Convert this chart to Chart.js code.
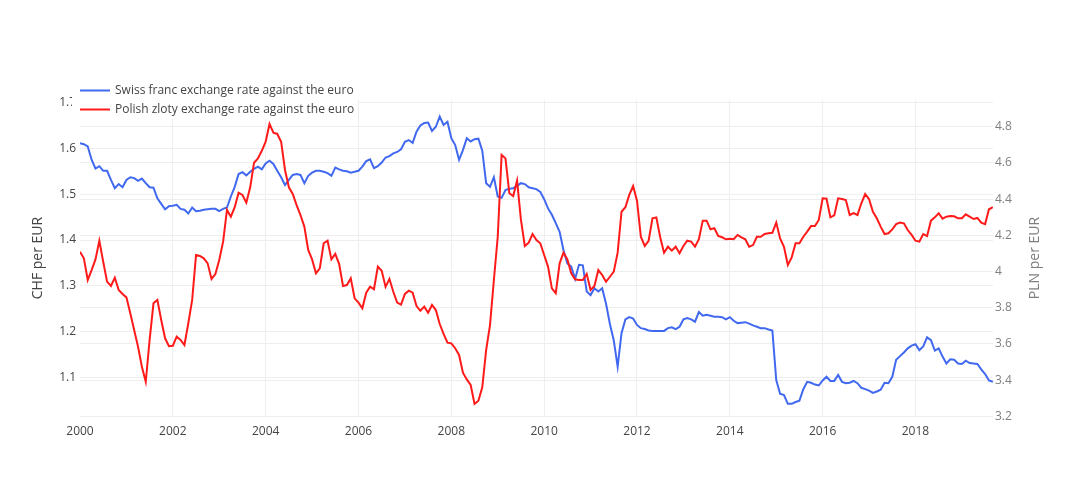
<!DOCTYPE html>
<html>
<head>
<meta charset="utf-8">
<title>CHF and PLN against the euro</title>
<script src="https://cdn.jsdelivr.net/npm/chart.js@4.4.1/dist/chart.umd.min.js"></script>
<style>
  html, body { margin: 0; padding: 0; background: #fff; }
  #wrap { width: 1074px; height: 502px; position: relative; }
</style>
</head>
<body>
<div id="wrap"><canvas id="fxChart"></canvas></div>
<script>
// monthly averages, first value = Jan 2000
const startYear = 2000;
const seriesNames = ['Swiss franc exchange rate against the euro', 'Polish zloty exchange rate against the euro'];

const chfPerEur = [
    1.611, 1.609, 1.604, 1.575, 1.556, 1.561, 1.551, 1.551, 1.531, 1.513, 1.522, 1.515,
    1.531, 1.537, 1.535, 1.529, 1.534, 1.524, 1.515, 1.514, 1.491, 1.479, 1.467, 1.474,
    1.475, 1.477, 1.468, 1.466, 1.458, 1.471, 1.463, 1.464, 1.466, 1.467, 1.468, 1.468,
    1.463, 1.468, 1.471, 1.495, 1.516, 1.544, 1.548, 1.541, 1.549, 1.555, 1.560, 1.554,
    1.567, 1.573, 1.566, 1.551, 1.537, 1.520, 1.531, 1.542, 1.544, 1.542, 1.524, 1.540,
    1.547, 1.551, 1.551, 1.549, 1.546, 1.540, 1.558, 1.554, 1.551, 1.550, 1.547, 1.549,
    1.551, 1.560, 1.572, 1.576, 1.557, 1.561, 1.569, 1.580, 1.583, 1.589, 1.592, 1.598,
    1.614, 1.618, 1.612, 1.636, 1.650, 1.655, 1.656, 1.638, 1.647, 1.669, 1.651, 1.658,
    1.622, 1.607, 1.575, 1.596, 1.622, 1.615, 1.620, 1.621, 1.595, 1.524, 1.516, 1.537,
    1.495, 1.492, 1.509, 1.512, 1.513, 1.518, 1.524, 1.522, 1.515, 1.513, 1.511, 1.505,
    1.489, 1.469, 1.455, 1.437, 1.418, 1.378, 1.349, 1.342, 1.315, 1.346, 1.345, 1.288,
    1.280, 1.295, 1.288, 1.295, 1.261, 1.217, 1.181, 1.124, 1.197, 1.227, 1.232, 1.229,
    1.215, 1.208, 1.206, 1.203, 1.202, 1.202, 1.202, 1.202, 1.208, 1.210, 1.206, 1.211,
    1.227, 1.230, 1.227, 1.222, 1.243, 1.235, 1.237, 1.235, 1.233, 1.233, 1.232, 1.227,
    1.232, 1.224, 1.219, 1.220, 1.221, 1.218, 1.214, 1.211, 1.208, 1.208, 1.205, 1.203,
    1.095, 1.065, 1.062, 1.043, 1.043, 1.047, 1.050, 1.075, 1.091, 1.089, 1.085, 1.083,
    1.094, 1.102, 1.093, 1.093, 1.106, 1.091, 1.088, 1.089, 1.093, 1.088, 1.078, 1.075,
    1.072, 1.067, 1.070, 1.074, 1.089, 1.088, 1.102, 1.139, 1.147, 1.155, 1.164, 1.170,
    1.173, 1.160, 1.168, 1.188, 1.182, 1.159, 1.164, 1.146, 1.131, 1.140, 1.139, 1.131,
    1.130, 1.137, 1.132, 1.131, 1.130, 1.118, 1.108, 1.094, 1.091
];

const plnPerEur = [
    4.109, 4.073, 3.953, 4.008, 4.067, 4.170, 4.054, 3.944, 3.920, 3.966, 3.898, 3.876,
    3.857, 3.769, 3.677, 3.585, 3.474, 3.391, 3.622, 3.824, 3.843, 3.732, 3.631, 3.588,
    3.590, 3.640, 3.622, 3.594, 3.714, 3.843, 4.091, 4.086, 4.073, 4.045, 3.959, 3.986,
    4.064, 4.165, 4.340, 4.303, 4.355, 4.435, 4.423, 4.380, 4.465, 4.601, 4.625, 4.667,
    4.717, 4.815, 4.767, 4.760, 4.717, 4.561, 4.465, 4.428, 4.367, 4.312, 4.248, 4.119,
    4.067, 3.990, 4.018, 4.156, 4.170, 4.067, 4.097, 4.041, 3.920, 3.925, 3.962, 3.852,
    3.828, 3.797, 3.883, 3.916, 3.902, 4.027, 4.004, 3.915, 3.959, 3.888, 3.828, 3.817,
    3.876, 3.894, 3.883, 3.809, 3.783, 3.806, 3.772, 3.815, 3.787, 3.710, 3.655, 3.607,
    3.603, 3.576, 3.539, 3.441, 3.404, 3.373, 3.268, 3.286, 3.360, 3.566, 3.704, 3.953,
    4.192, 4.644, 4.625, 4.432, 4.417, 4.502, 4.285, 4.141, 4.159, 4.207, 4.174, 4.156,
    4.091, 4.027, 3.907, 3.880, 4.045, 4.104, 4.067, 3.990, 3.957, 3.953, 3.953, 3.986,
    3.898, 3.920, 4.008, 3.981, 3.944, 3.971, 3.999, 4.104, 4.330, 4.355, 4.423, 4.472,
    4.391, 4.192, 4.141, 4.170, 4.294, 4.299, 4.189, 4.104, 4.137, 4.115, 4.137, 4.101,
    4.141, 4.170, 4.165, 4.137, 4.178, 4.281, 4.281, 4.233, 4.239, 4.196, 4.189, 4.178,
    4.181, 4.178, 4.202, 4.189, 4.178, 4.137, 4.146, 4.192, 4.192, 4.207, 4.211, 4.214,
    4.270, 4.183, 4.137, 4.036, 4.078, 4.156, 4.156, 4.192, 4.220, 4.251, 4.251, 4.285,
    4.404, 4.402, 4.299, 4.310, 4.404, 4.400, 4.395, 4.312, 4.322, 4.312, 4.377, 4.428,
    4.399, 4.330, 4.294, 4.248, 4.207, 4.211, 4.233, 4.262, 4.270, 4.266, 4.229, 4.202,
    4.170, 4.165, 4.207, 4.196, 4.281, 4.299, 4.322, 4.292, 4.303, 4.307, 4.305, 4.294,
    4.294, 4.316, 4.303, 4.290, 4.296, 4.270, 4.262, 4.344, 4.355
];

const yearTicks = [2000, 2002, 2004, 2006, 2008, 2010, 2012, 2014, 2016, 2018];
const chfTicks = [1.1, 1.2, 1.3, 1.4, 1.5, 1.6, 1.7];
const plnTicks = [3.2, 3.4, 3.6, 3.8, 4, 4.2, 4.4, 4.6, 4.8];

const FONT = '"Open Sans", verdana, arial, sans-serif';
const BLUE = '#4169f0';
const RED = '#ff1a1a';

function toPoints(values) {
    return values.map((v, i) => ({ x: startYear + i / 12, y: v }));
}

function fixedTicks(list) {
    return function (scale) {
        scale.ticks = list.map(v => ({ value: v }));
    };
}

// plotly-like legend (white box over the top of the plot) and the two axis titles
const overlayPlugin = {
    id: 'overlay',
    afterDraw(chart) {
        const ctx = chart.ctx;
        const area = chart.chartArea;
        ctx.save();

        ctx.fillStyle = '#fff';
        ctx.fillRect(72, 80, 286, 39);
        const rows = [
            { name: seriesNames[0], color: BLUE, y: 90.5 },
            { name: seriesNames[1], color: RED, y: 109.5 }
        ];
        ctx.font = '12px ' + FONT;
        ctx.textBaseline = 'middle';
        ctx.textAlign = 'left';
        rows.forEach(r => {
            ctx.strokeStyle = r.color;
            ctx.lineWidth = 2;
            ctx.beginPath();
            ctx.moveTo(80, r.y);
            ctx.lineTo(110, r.y);
            ctx.stroke();
            ctx.fillStyle = '#444';
            ctx.fillText(r.name, 115, r.y + 0.5);
        });

        const midY = (area.top + area.bottom) / 2;
        ctx.font = '14px ' + FONT;
        ctx.textAlign = 'center';
        ctx.textBaseline = 'middle';

        ctx.save();
        ctx.translate(38, midY);
        ctx.rotate(-Math.PI / 2);
        ctx.fillStyle = '#444';
        ctx.fillText('CHF per EUR', 0, 0);
        ctx.restore();

        ctx.save();
        ctx.translate(1035, midY);
        ctx.rotate(-Math.PI / 2);
        ctx.fillStyle = '#7f7f7f';
        ctx.fillText('PLN per EUR', 0, 0);
        ctx.restore();

        ctx.restore();
    }
};

new Chart(document.getElementById('fxChart'), {
    type: 'line',
    data: {
        datasets: [
            {
                label: seriesNames[0],
                data: toPoints(chfPerEur),
                yAxisID: 'yChf',
                borderColor: BLUE,
                borderWidth: 2,
                pointRadius: 0,
                tension: 0,
                fill: false,
                order: 1
            },
            {
                label: seriesNames[1],
                data: toPoints(plnPerEur),
                yAxisID: 'yPln',
                borderColor: RED,
                borderWidth: 2,
                pointRadius: 0,
                tension: 0,
                fill: false,
                order: 0
            }
        ]
    },
    options: {
        responsive: true,
        maintainAspectRatio: false,
        animation: false,
        layout: { padding: { top: 100, left: 0, right: 0, bottom: 0 } },
        plugins: {
            legend: { display: false },
            tooltip: { enabled: false }
        },
        scales: {
            x: {
                type: 'linear',
                min: 2000,
                max: 2019.67,
                afterBuildTicks: fixedTicks(yearTicks),
                afterFit: s => { s.height = 86; },
                border: { display: false },
                grid: {
                    // no grid line on the left edge, like the original
                    color: c => (c.tick && c.tick.value === 2000 ? 'rgba(0,0,0,0)' : '#eee'),
                    lineWidth: 1,
                    drawTicks: false
                },
                ticks: {
                    autoSkip: false,
                    maxRotation: 0,
                    padding: 8,
                    color: '#444',
                    font: { family: FONT, size: 12 },
                    callback: v => String(v)
                }
            },
            yChf: {
                type: 'linear',
                position: 'left',
                min: 1.0165,
                max: 1.7053,
                afterBuildTicks: fixedTicks(chfTicks),
                afterFit: s => { s.width = 80; },
                border: { display: false },
                grid: { color: '#eee', lineWidth: 1, drawTicks: false },
                ticks: {
                    padding: 4,
                    color: '#444',
                    font: { family: FONT, size: 12 },
                    callback: v => String(Math.round(v * 10) / 10)
                }
            },
            yPln: {
                type: 'linear',
                position: 'right',
                min: 3.2017,
                max: 4.9475,
                afterBuildTicks: fixedTicks(plnTicks),
                afterFit: s => { s.width = 81; },
                border: { display: false },
                grid: { color: '#eee', lineWidth: 1, drawTicks: false },
                ticks: {
                    padding: 2,
                    color: '#7f7f7f',
                    font: { family: FONT, size: 12 },
                    callback: v => String(Math.round(v * 10) / 10)
                }
            }
        }
    },
    plugins: [overlayPlugin]
});
</script>
</body>
</html>
